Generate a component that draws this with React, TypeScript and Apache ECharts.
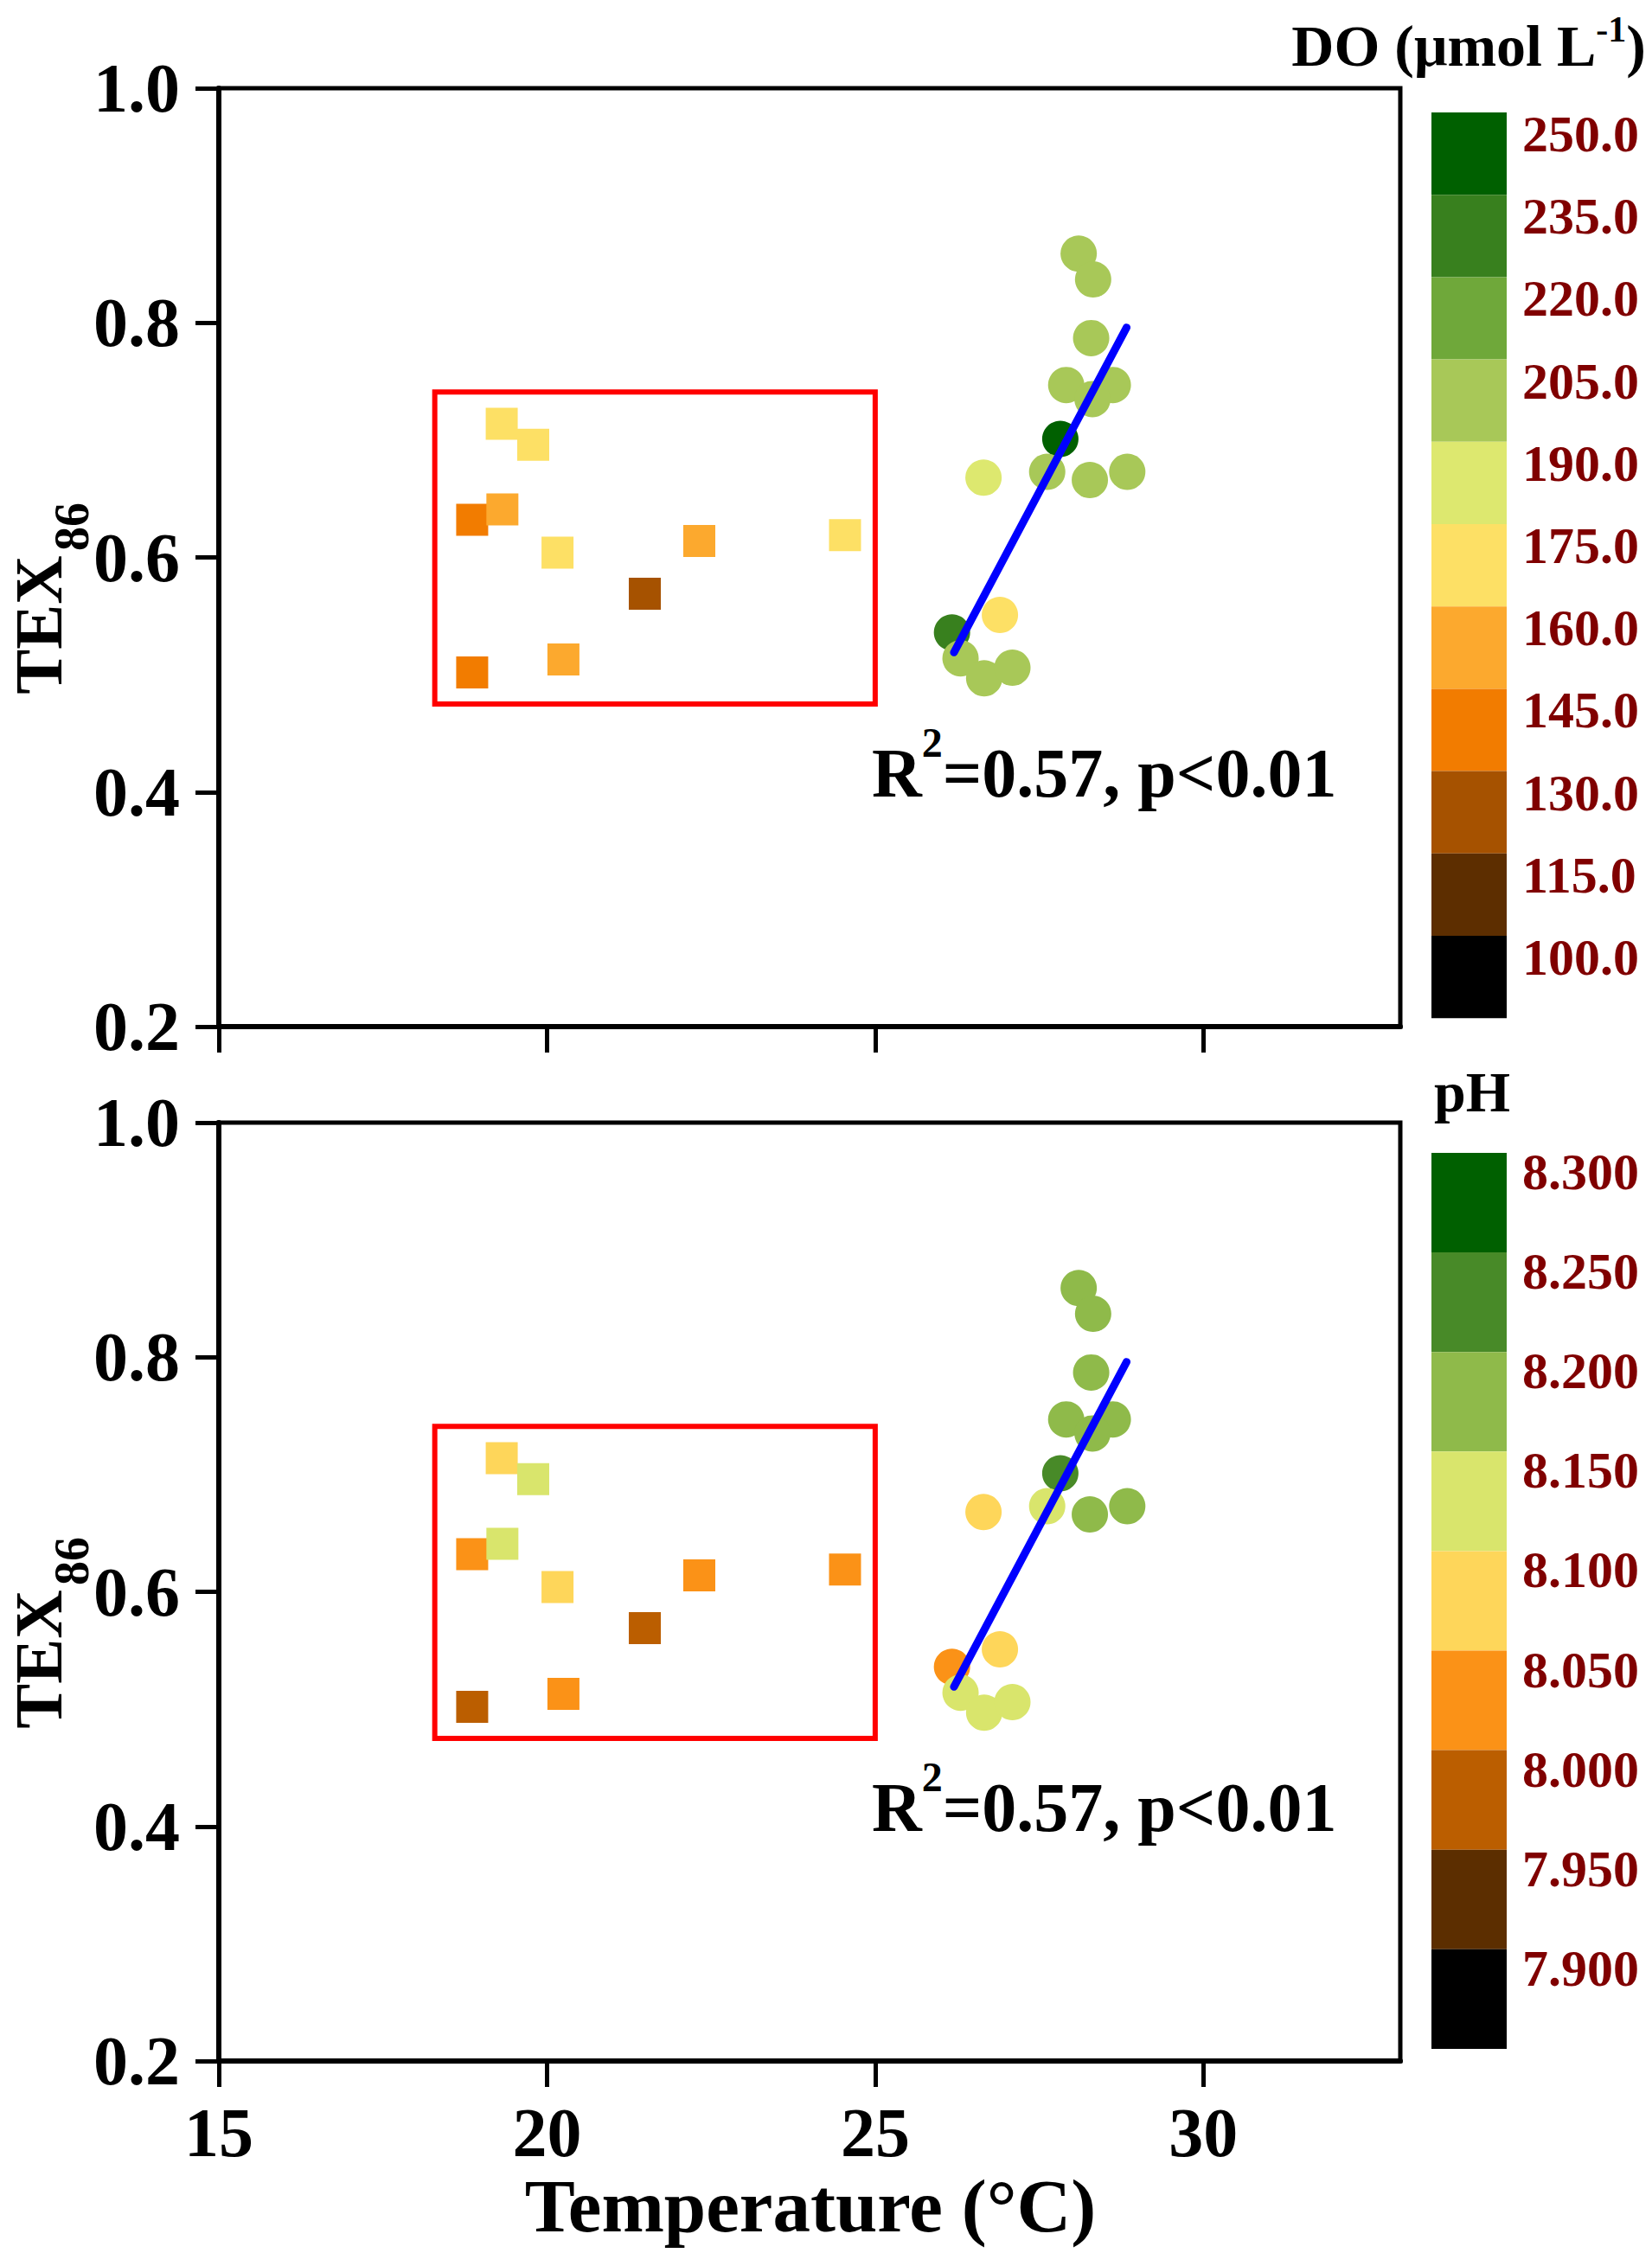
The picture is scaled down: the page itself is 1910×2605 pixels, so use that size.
import React, { useEffect, useRef } from "react";
import * as echarts from "echarts";

// ---- data ----
const circleTemp = [28.10, 28.32, 28.29, 27.91, 28.62, 28.31, 27.82, 27.62, 28.27, 28.84, 26.65, 26.90, 26.17, 26.30, 26.66, 27.09];
const circleTex = [0.859, 0.837, 0.787, 0.747, 0.747, 0.735, 0.701, 0.673, 0.666, 0.673, 0.668, 0.551, 0.536, 0.514, 0.497, 0.506];
const circleDO = [212, 212, 212, 212, 212, 212, 255, 212, 212, 212, 195, 180, 240, 212, 212, 212];
const circlePH = [8.22, 8.22, 8.22, 8.22, 8.22, 8.22, 8.27, 8.17, 8.22, 8.22, 8.12, 8.12, 8.07, 8.17, 8.17, 8.17];

const squareTemp = [19.31, 19.79, 18.86, 19.32, 20.16, 22.32, 24.54, 21.49, 18.86, 20.25];
const squareTex = [0.714, 0.696, 0.632, 0.641, 0.604, 0.614, 0.619, 0.569, 0.502, 0.513];
const squareDO = [180, 180, 150, 165, 180, 165, 180, 135, 150, 165];
const squarePH = [8.12, 8.17, 8.07, 8.17, 8.12, 8.07, 8.07, 8.02, 8.02, 8.07];

const fitLine = [[26.2, 0.519], [28.83, 0.796]];
const highlightBox = { x0: 18.29, x1: 25.0, y0: 0.475, y1: 0.741 };

const xTicks = [15, 20, 25, 30];
const yTicks = [0.2, 0.4, 0.6, 0.8, 1.0];

const doLevels = [250, 235, 220, 205, 190, 175, 160, 145, 130, 115, 100];
const doColors = ["#006000", "#38801e", "#6fa83a", "#a8c858", "#dde86f", "#fde065", "#fca92e", "#f27c00", "#a65200", "#5d2e00", "#000000"];
const phLevels = [8.3, 8.25, 8.2, 8.15, 8.1, 8.05, 8.0, 7.95, 7.9];
const phColors = ["#006000", "#488a28", "#8fba4a", "#d9e56c", "#fed65a", "#fb9217", "#bb5e00", "#5c2e00", "#000000"];

const FONT = '"Liberation Serif", "Times New Roman", serif';

export default function App() {
  const ref = useRef<HTMLDivElement>(null);

  useEffect(() => {
    document.body.style.margin = "0";
    if (!ref.current) return;
    const chart = echarts.init(ref.current, null, { renderer: "svg" });

    const circlesTop = circleTemp.map((t, i) => [t, circleTex[i], circleDO[i]]);
    const squaresTop = squareTemp.map((t, i) => [t, squareTex[i], squareDO[i]]);
    const circlesBot = circleTemp.map((t, i) => [t, circleTex[i], circlePH[i]]);
    const squaresBot = squareTemp.map((t, i) => [t, squareTex[i], squarePH[i]]);

    const doPieces = doLevels.map((v, i) => ({ gte: v, lt: v + 15, label: v.toFixed(1), color: doColors[i] }));
    const phPieces = phLevels.map((v, i) => ({ gte: v - 0.0001, lt: v + 0.0499, label: v.toFixed(3), color: phColors[i] }));

    const gridL = 253;
    const gridW = 1366;
    const gridH = 1085;
    const tops = [102, 1298];

    // colour-bar layout
    const barLeft = 1655;
    const doTop = 130;
    const doItemH = 95.2;
    const phTop = 1333;
    const phItemH = 115.1;

    const xAxisBase = (gi: number, showLabels: boolean) => ({
      type: "value",
      gridIndex: gi,
      min: 15,
      max: 33,
      interval: 5,
      axisLine: { show: true, onZero: false, lineStyle: { color: "#000", width: 6 } },
      axisTick: { show: true, length: 30, lineStyle: { color: "#000", width: 5 }, customValues: xTicks },
      axisLabel: {
        show: showLabels,
        customValues: xTicks,
        margin: 43,
        fontFamily: FONT,
        fontWeight: "bold",
        fontSize: 80,
        color: "#000",
      },
      splitLine: { show: false },
    });
    const yAxisBase = (gi: number) => ({
      type: "value",
      gridIndex: gi,
      min: 0.2,
      max: 1.0,
      interval: 0.2,
      axisLine: { show: true, onZero: false, lineStyle: { color: "#000", width: 6 } },
      axisTick: { show: true, length: 27, lineStyle: { color: "#000", width: 5 }, customValues: yTicks },
      axisLabel: {
        customValues: yTicks,
        margin: 45,
        fontFamily: FONT,
        fontWeight: "bold",
        fontSize: 80,
        color: "#000",
        formatter: (v: number) => v.toFixed(1),
      },
      splitLine: { show: false },
    });

    const scatterSeries = (gi: number, data: number[][], symbol: string, size: number) => ({
      type: "scatter",
      xAxisIndex: gi,
      yAxisIndex: gi,
      data,
      symbol,
      symbolSize: size,
      itemStyle: { opacity: 1 },
      emphasis: { disabled: true },
      z: 3,
    });

    const squareSeries = (gi: number, data: number[][]) => ({
      ...scatterSeries(gi, data, "rect", 37),
      markArea: {
        silent: true,
        itemStyle: { color: "rgba(0,0,0,0)", borderColor: "#ff0000", borderWidth: 6 },
        data: [[{ coord: [highlightBox.x0, highlightBox.y1] }, { coord: [highlightBox.x1, highlightBox.y0] }]],
      },
    });

    const lineSeries = (gi: number) => ({
      type: "line",
      xAxisIndex: gi,
      yAxisIndex: gi,
      data: fitLine,
      symbol: "none",
      lineStyle: { color: "#0000ff", width: 9, cap: "round" },
      emphasis: { disabled: true },
      z: 5,
    });

    const vmBase = {
      type: "piecewise",
      dimension: 2,
      orient: "vertical",
      left: barLeft,
      itemWidth: 87,
      itemGap: 0,
      padding: 0,
      showLabel: false,
      itemSymbol: "rect",
      align: "left",
      selectedMode: false,
      hoverLink: false,
    };

    const barLabels = (levels: number[], digits: number, top: number, h: number, dy: number) =>
      levels.map((v, i) => ({
        type: "text",
        x: 1760,
        y: top + i * h + dy,
        silent: true,
        style: {
          text: v.toFixed(digits),
          fontFamily: FONT,
          fontWeight: "bold",
          fontSize: 60,
          fill: "#800000",
          align: "left",
          verticalAlign: "middle",
        },
      }));

    const statText = (y: number) => ({
      type: "text",
      x: 1008,
      y,
      style: {
        text: "{a|R}{s|2}{a|=0.57, p<0.01}",
        align: "left",
        verticalAlign: "middle",
        rich: {
          a: { fontFamily: FONT, fontWeight: "bold", fontSize: 80, lineHeight: 120, fill: "#000" },
          s: { fontFamily: FONT, fontWeight: "bold", fontSize: 48, lineHeight: 48, verticalAlign: "top", fill: "#000" },
        },
      },
    });

    const yTitle = (off: number) => [
      {
        type: "text",
        x: 44,
        y: 722.5 + off,
        rotation: Math.PI / 2,
        style: { text: "TEX", fontFamily: FONT, fontWeight: "bold", fontSize: 78, lineHeight: 60, fill: "#000", align: "center", verticalAlign: "middle" },
      },
      {
        type: "text",
        x: 83,
        y: 609 + off,
        rotation: Math.PI / 2,
        style: { text: "86", fontFamily: FONT, fontWeight: "bold", fontSize: 56, lineHeight: 44, fill: "#000", align: "center", verticalAlign: "middle" },
      },
    ];

    const option = {
      animation: false,
      backgroundColor: "#ffffff",
      grid: tops.map((t) => ({
        left: gridL,
        top: t,
        width: gridW,
        height: gridH,
        show: true,
        borderColor: "#000",
        borderWidth: 5,
        backgroundColor: "transparent",
      })),
      xAxis: [xAxisBase(0, false), xAxisBase(1, true)],
      yAxis: [yAxisBase(0), yAxisBase(1)],
      visualMap: [
        { ...vmBase, seriesIndex: [0, 1], top: doTop, itemHeight: doItemH, pieces: doPieces },
        { ...vmBase, seriesIndex: [3, 4], top: phTop, itemHeight: phItemH, pieces: phPieces },
      ],
      series: [
        scatterSeries(0, circlesTop, "circle", 42),
        squareSeries(0, squaresTop),
        lineSeries(0),
        scatterSeries(1, circlesBot, "circle", 42),
        squareSeries(1, squaresBot),
        lineSeries(1),
      ],
      graphic: [
        ...yTitle(0),
        ...yTitle(1196),
        statText(894),
        statText(2090),
        ...barLabels(doLevels, 1, doTop, doItemH, 25),
        ...barLabels(phLevels, 3, phTop, phItemH, 22),
        {
          type: "text",
          x: 937,
          y: 2550,
          style: { text: "Temperature (°C)", fontFamily: FONT, fontWeight: "bold", fontSize: 87, lineHeight: 70, fill: "#000", align: "center", verticalAlign: "middle" },
        },
        {
          type: "text",
          x: 1903,
          y: 53,
          style: {
            text: "{a|DO (μmol L}{s|-1}{a|)}",
            align: "right",
            verticalAlign: "middle",
            rich: {
              a: { fontFamily: FONT, fontWeight: "bold", fontSize: 68, lineHeight: 80, fill: "#000" },
              s: { fontFamily: FONT, fontWeight: "bold", fontSize: 42, lineHeight: 40, verticalAlign: "top", fill: "#000" },
            },
          },
        },
        {
          type: "text",
          x: 1658,
          y: 1262,
          style: { text: "pH", fontFamily: FONT, fontWeight: "bold", fontSize: 66, fill: "#000", align: "left", verticalAlign: "middle" },
        },
      ],
    };

    chart.setOption(option as any);
    return () => chart.dispose();
  }, []);

  return <div ref={ref} style={{ width: 1910, height: 2605 }} />;
}
